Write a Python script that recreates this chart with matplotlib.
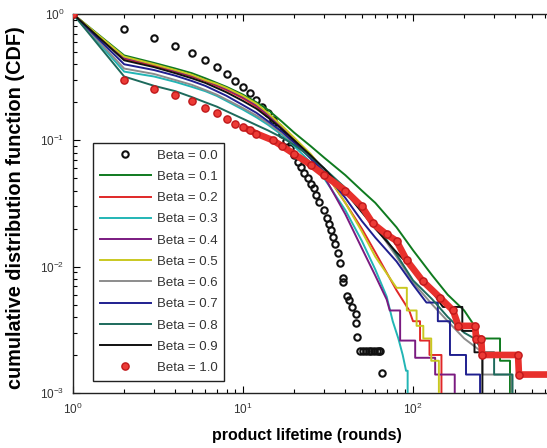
import matplotlib
matplotlib.use("Agg")
import matplotlib.pyplot as plt
from matplotlib.ticker import FixedLocator, FixedFormatter

plt.rcParams['font.family'] = ['Liberation Sans', 'DejaVu Sans']

# ---------------- data ----------------
labels = ["Beta = 0.0", "Beta = 0.1", "Beta = 0.2", "Beta = 0.3", "Beta = 0.4",
          "Beta = 0.5", "Beta = 0.6", "Beta = 0.7", "Beta = 0.8", "Beta = 0.9",
          "Beta = 1.0"]

x_ticks = [1, 10, 100, 1000]
x_tick_labels = [r'$\mathregular{10^{0}}$', r'$\mathregular{10^{1}}$',
                 r'$\mathregular{10^{2}}$', '']

# Beta = 0.0 (open black circles)
b00_x = [1, 2, 3, 4, 5, 6, 7, 8, 9, 10, 11, 12, 13, 14, 15, 16, 17, 18, 19, 20, 21,
         22, 23, 24, 25, 26, 27, 28, 30, 31, 32, 33, 34, 35, 36, 37, 39, 39, 41, 42, 44,
         46, 46, 47, 49, 51, 53, 55, 57, 59, 61, 63, 64, 66]
b00_y = [1.0, 0.76, 0.645, 0.557, 0.49, 0.43, 0.38, 0.334, 0.294, 0.262, 0.235, 0.21,
         0.185, 0.164, 0.145, 0.128, 0.113, 0.099, 0.087, 0.076, 0.067,
         0.061, 0.055, 0.05, 0.0455, 0.0418, 0.0367, 0.0323, 0.0279, 0.0245, 0.0219,
         0.0194, 0.0171, 0.0152, 0.0129, 0.0106, 0.0082, 0.0075, 0.0059, 0.0054, 0.0048,
         0.0042, 0.0036, 0.0028, 0.00215, 0.00215, 0.00215, 0.00215, 0.00215, 0.00215,
         0.00215, 0.00215, 0.00215, 0.00143]

# Beta = 0.1 ... 0.9 (lines)
b01_x = [1, 2, 3, 4, 5, 6, 7, 8, 10, 12, 14, 17, 20, 25, 30, 40, 50, 60, 80, 100, 130,
         160, 200, 230, 248, 325, 325, 372, 372]
b01_y = [1, .47, .41, .37, .34, .31, .285, .265, .23, .20, .175, .14, .115, .09, .073,
         .053, .04, .032, .0205, .0135, .0085, .006, .0045, .0034, .0027, .0027, .0018,
         .0018, .0006]

b02_x = [1, 2, 3, 4, 5, 6, 7, 8, 10, 12, 14, 17, 20, 25, 30, 40, 50, 60, 80, 95, 100,
         110, 110, 125, 125, 147, 147]
b02_y = [1, .44, .39, .35, .32, .295, .27, .25, .215, .185, .157, .125, .1, .075, .057,
         .032, .02, .013, .0065, .0045, .0037, .0037, .0026, .0026, .002, .002, .0006]

b03_x = [1, 2, 3, 4, 5, 6, 7, 8, 10, 12, 14, 17, 20, 25, 30, 40, 50, 60, 70, 76, 82,
         87, 91, 93, 93]
b03_y = [1, .35, .32, .29, .265, .245, .225, .205, .175, .152, .133, .11, .09, .067,
         .05, .028, .016, .0095, .0058, .0037, .0027, .002, .0015, .0015, .0006]

b04_x = [1, 2, 3, 4, 5, 6, 7, 8, 10, 12, 14, 17, 20, 25, 30, 40, 50, 60, 70, 73, 84,
         84, 103, 103, 135, 135, 176, 176]
b04_y = [1, .45, .40, .355, .325, .30, .275, .255, .22, .19, .16, .125, .1, .072, .052,
         .026, .014, .0085, .0055, .0045, .0045, .0026, .0026, .0019, .0019, .0014,
         .0014, .0006]

b05_x = [1, 2, 3, 4, 5, 6, 7, 8, 10, 12, 14, 17, 20, 25, 30, 40, 50, 60, 80, 92, 92,
         105, 105, 115, 115, 128, 128, 142, 142]
b05_y = [1, .46, .40, .36, .33, .30, .28, .26, .225, .195, .165, .13, .105, .078, .058,
         .032, .019, .012, .0068, .0068, .0045, .0045, .0034, .0034, .0027, .0027,
         .0018, .0018, .0006]

b06_x = [1, 2, 3, 4, 5, 6, 7, 8, 10, 12, 14, 17, 20, 25, 30, 40, 50, 60, 80, 100, 130,
         160, 200, 256, 256, 380, 380]
b06_y = [1, .37, .335, .30, .275, .25, .23, .21, .18, .157, .137, .113, .095, .074,
         .059, .04, .029, .021, .012, .0075, .005, .0037, .0027, .0021, .0014, .0014,
         .0006]

b07_x = [1, 2, 3, 4, 5, 6, 7, 8, 10, 12, 14, 17, 20, 25, 30, 40, 50, 60, 80, 100, 120,
         140, 140, 165, 165, 205, 205, 248, 248]
b07_y = [1, .40, .36, .325, .295, .27, .245, .225, .19, .165, .142, .117, .096, .072,
         .056, .035, .023, .017, .011, .0072, .0052, .0052, .0037, .0037, .002, .002,
         .0014, .0014, .0006]

b08_x = [1, 2, 3, 4, 5, 6, 7, 8, 10, 12, 14, 17, 20, 25, 30, 40, 50, 60, 80, 100, 130,
         160, 200, 230, 260, 300, 300, 385, 385]
b08_y = [1, .32, .27, .245, .22, .2, .185, .17, .148, .132, .12, .105, .092, .074, .06,
         .042, .03, .022, .0125, .0078, .0055, .004, .003, .0027, .0021, .0021, .0014,
         .0014, .0006]

b09_x = [1, 2, 3, 4, 5, 6, 7, 8, 10, 12, 14, 17, 20, 25, 30, 40, 50, 60, 80, 100, 125,
         150, 195, 195, 230, 230, 256, 256]
b09_y = [1, .43, .38, .34, .31, .285, .26, .24, .205, .178, .152, .122, .1, .076, .06,
         .039, .027, .02, .013, .0095, .0068, .0048, .0048, .0031, .0031, .0021, .0021,
         .0006]

# Beta = 1.0 (red filled circles)
b10_x = [1, 2, 3, 4, 5, 6, 7, 8, 9, 10, 11, 12, 15, 17, 20, 25, 30, 40, 50, 58, 70, 80,
         92, 114, 144, 172, 185, 232, 235, 252, 255, 415, 420, 700]
b10_y = [1, .30, .254, .228, .204, .18, .164, .147, .134, .127, .12, .113, .1, .09,
         .078, .064, .053, .04, .03, .022, .018, .016, .0112, .0077, .0057, .0045, .0034,
         .0034, .0027, .0027, .002, .002, .0014, .0014]

line_series = [(b01_x, b01_y), (b02_x, b02_y), (b03_x, b03_y), (b04_x, b04_y),
               (b05_x, b05_y), (b06_x, b06_y), (b07_x, b07_y), (b08_x, b08_y),
               (b09_x, b09_y)]
line_colors = ['#0f7a1f', '#e02828', '#22b5b5', '#7a1a80', '#c9c820',
               '#8c8c8c', '#1f1f8f', '#1d6a5c', '#111111']

# ---------------- figure ----------------
W, H = 547, 448
fig = plt.figure(figsize=(W / 100, H / 100), dpi=100)
ax = fig.add_axes([73 / W, (H - 393) / H, (583 - 73) / W, (393 - 14) / H])
ax.set_xscale('log')
ax.set_yscale('log')

handles = []
h0, = ax.plot(b00_x, b00_y, linestyle='none', marker='o', markersize=4.6,
              markerfacecolor='none', markeredgecolor='#111111', markeredgewidth=1.5,
              zorder=2)
handles.append(h0)
for (xs, ys), c in zip(line_series, line_colors):
    h, = ax.plot(xs, ys, color=c, lw=1.4, zorder=3)
    handles.append(h)

ax.plot(b10_x[9:], b10_y[9:], color='#e8302c', lw=4.8, solid_capstyle='round',
        solid_joinstyle='round', zorder=4)
h10, = ax.plot(b10_x, b10_y, linestyle='none', marker='o', markersize=5.2,
               markerfacecolor='#ec3b36', markeredgecolor='#c0181a',
               markeredgewidth=1.0, zorder=4)
handles.append(h10)

ax.set_xlim(1, 1000)
ax.set_ylim(1e-3, 1)
ax.xaxis.set_major_locator(FixedLocator(x_ticks))
ax.xaxis.set_major_formatter(FixedFormatter(x_tick_labels))

ax.tick_params(which='both', direction='in', top=True, right=True,
               labelsize=8.5, labelcolor='#333333', width=0.8)
ax.tick_params(which='major', length=5, pad=6)
ax.tick_params(which='minor', length=3)
for s in ax.spines.values():
    s.set_linewidth(1.0)
    s.set_color('#222222')

ax.set_xlabel('product lifetime (rounds)', fontsize=11.5, fontweight='bold')
ax.set_ylabel('cumulative distribution function (CDF)', fontsize=14.3,
              fontweight='bold')
ax.xaxis.set_label_coords(0.459, -0.093)
ax.yaxis.set_label_coords(-0.095, 0.49)

leg = ax.legend(handles, labels, loc='upper left',
                bbox_to_anchor=(93 / W, 1 - 143 / H), bbox_transform=fig.transFigure,
                borderaxespad=0, fancybox=False, framealpha=1, edgecolor='#222222',
                fontsize=9.5, handlelength=3.9, labelspacing=0.68, handletextpad=0.45,
                borderpad=0.5)
leg.get_frame().set_linewidth(1.0)
for t in leg.get_texts():
    t.set_color('#333333')

fig.savefig('out.png', dpi=100)
